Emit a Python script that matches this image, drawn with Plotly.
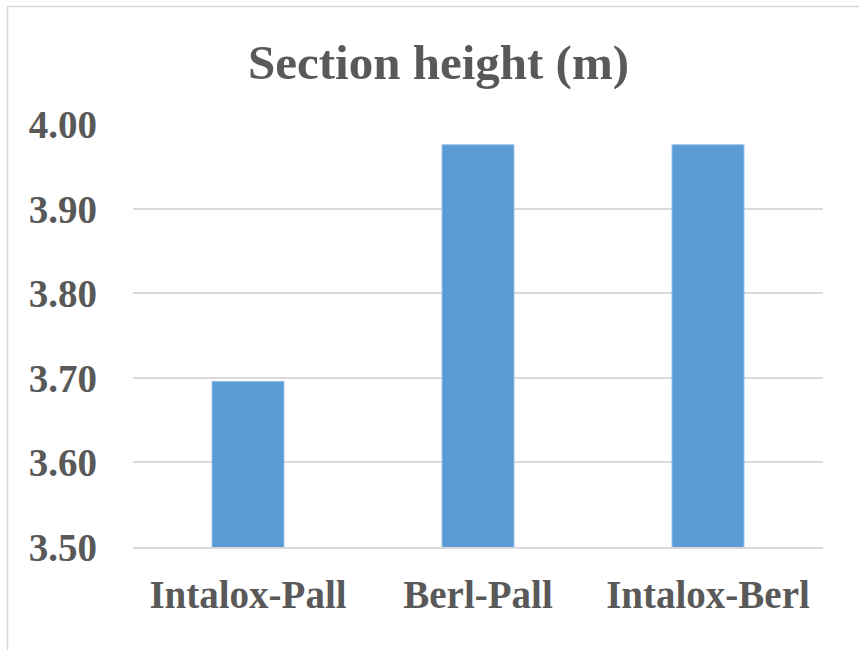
import plotly.graph_objects as go

# Section height per packing combination
categories = ["Intalox-Pall", "Berl-Pall", "Intalox-Berl"]
heights = [3.696, 3.976, 3.976]
tick_vals = [3.50, 3.60, 3.70, 3.80, 3.90, 4.00]
tick_text = ["3.50", "3.60", "3.70", "3.80", "3.90", "4.00"]

W, H = 859, 650
ML, MR, MT, MB = 133, 36, 124, 103
pw, ph = W - ML - MR, H - MT - MB

def px_to_paper(x, y):
    return (x - ML) / pw, (H - MB - y) / ph

TEXT = "#595959"
GRID = "#d9d9d9"
FONT = "Liberation Serif, Times New Roman, serif"

fig = go.Figure(
    go.Bar(
        x=categories,
        y=heights,
        marker=dict(color="#5b9bd5", line=dict(color="#9cc3e6", width=1)),
        width=0.313,
        hoverinfo="x+y",
    )
)

# chart-area frame (only top and left edges fall inside the canvas)
x0, y0 = px_to_paper(7.5, 6.5)
x1, y1 = px_to_paper(W + 20, H + 20)
fig.add_shape(type="rect", xref="paper", yref="paper", x0=x0, y0=y1, x1=x1, y1=y0,
              line=dict(color=GRID, width=1.5), fillcolor="rgba(0,0,0,0)", layer="below")

tx, ty = px_to_paper(438, 63)
fig.add_annotation(text="<b>Section height (m)</b>", xref="paper", yref="paper",
                   x=tx, y=ty, xanchor="center", yanchor="middle", showarrow=False,
                   font=dict(family=FONT, size=49, color=TEXT))

fig.update_layout(
    width=W, height=H,
    margin=dict(l=ML, r=MR, t=MT, b=MB, pad=0),
    paper_bgcolor="white", plot_bgcolor="white",
    showlegend=False,
    font=dict(family=FONT, color=TEXT),
)
fig.update_xaxes(
    showgrid=False, showline=True, linecolor=GRID, linewidth=1.5,
    ticks="", tickfont=dict(family=FONT, size=39, color=TEXT),
    tickprefix="<b>", ticksuffix="</b>", ticklabelstandoff=12,
)
fig.update_yaxes(
    range=[3.5, 4.0005], tickvals=tick_vals, ticktext=["<b>" + t + "</b>" for t in tick_text],
    showgrid=True, gridcolor=GRID, gridwidth=1.5, zeroline=False, showline=False,
    ticks="", tickfont=dict(family=FONT, size=39, color=TEXT), ticklabelstandoff=35,
)

fig.write_html("out.html")
